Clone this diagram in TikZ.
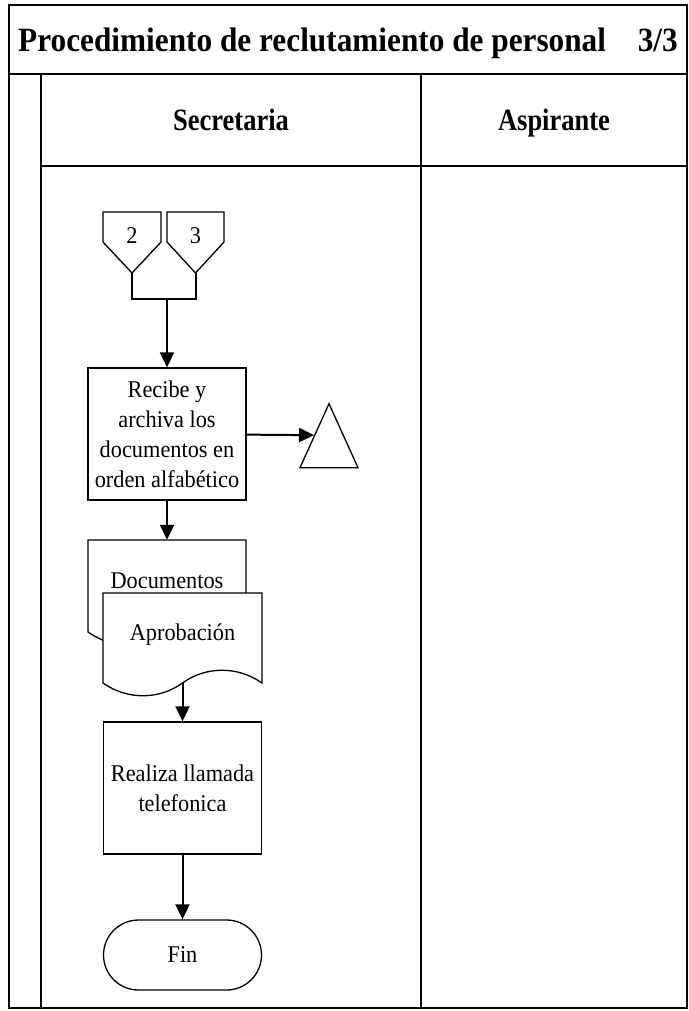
\documentclass[tikz,border=0pt]{standalone}
\usepackage{fontspec}
\setmainfont{Liberation Serif}
\newfontfamily\cuerpo[FakeStretch=0.93]{Liberation Serif}
\newfontfamily\encabezado[FakeStretch=0.92]{Liberation Serif}
\newfontfamily\carril[FakeStretch=0.855]{Liberation Serif}
\usetikzlibrary{arrows.meta,shapes.geometric}

\begin{document}
\begin{tikzpicture}[x=1pt,y=-1pt,font=\cuerpo\fontsize{24}{30}\selectfont,
  marco/.style={line width=2.4pt},
  forma/.style={draw,line width=1.3pt,fill=white},
  flowbox/.style={forma,minimum width=158pt,align=center,inner sep=0pt},
  docbox/.style={minimum width=158pt,inner sep=0pt,text height=16pt,text depth=12pt},
  flow/.style={line width=2pt,-{Triangle[length=15pt,width=14pt]}},
  lane/.style={font=\carril\fontsize{31}{34}\selectfont\bfseries,anchor=base,inner sep=0pt}]
\useasboundingbox (0,0) rectangle (688,1011);
% marco del diagrama
\draw[marco] (9,5) rectangle (687,1008);
\draw[marco] (9,74) -- (687,74);
\draw[marco] (41,74) -- (41,1008);
\draw[marco] (41,166) -- (687,166);
\draw[marco] (421,74) -- (421,1008);
\node[anchor=base west,inner sep=0pt,font=\encabezado\fontsize{34}{38}\selectfont\bfseries] (titulo) at (18,52) {Procedimiento de reclutamiento de personal};
\node[anchor=base east,inner sep=0pt,font=\encabezado\fontsize{34}{38}\selectfont\bfseries] (pagina) at (678,52) {3/3};
\node[lane] (secretaria) at (231,131) {Secretaria};
\node[lane] (aspirante) at (554,131) {Aspirante};
% conectores de pagina
\draw[forma] (103,212) -- (161,212) -- (161,242) -- (132,273) -- (103,242) -- cycle;
\draw[forma] (167,212) -- (224,212) -- (224,242) -- (195.5,273) -- (167,242) -- cycle;
\node[anchor=base] (con2) at (132,243) {2};
\node[anchor=base] (con3) at (195.5,243) {3};
\coordinate (tip2) at (132,273);
\coordinate (tip3) at (195.5,273);
\coordinate (union) at (167,299);
\draw[line width=2pt] (tip2) -- (tip2 |- union) -- (tip3 |- union) -- (tip3);
% secretaria
\node[flowbox,minimum height=132pt] (recibe) at (167,434) {Recibe y\\archiva los\\documentos en\\orden alfabético};
\node[forma,isosceles triangle,isosceles triangle stretches,shape border rotate=90,
  minimum width=58pt,minimum height=64pt,inner sep=0pt,anchor=apex] (archivo) at (329,402) {};
\draw[forma] (88,632) -- (88,540) -- (246,540) -- (246,632) .. controls (222,615) and (191,615) .. (167,632) .. controls (143,649) and (112,649) .. (88,632) -- cycle;
\node[docbox,minimum height=92pt] (docs) at (167,586) {Documentos};
\draw[forma] (103,683) -- (103,593) -- (262,593) -- (262,683) .. controls (238,666) and (206,666) .. (182.5,683) .. controls (159,700) and (127,700) .. (103,683) -- cycle;
\node[docbox,minimum height=90pt] (aprob) at (182.5,638) {Aprobación};
\node[flowbox,minimum height=132pt] (llamada) at (182.5,788) {Realiza llamada\\telefonica};
\node[flowbox,rounded corners=35pt,minimum height=70pt] (fin) at (182.5,955) {Fin};
% flechas
\draw[flow] (union) -- (recibe);
\draw[flow] (recibe) -- (archivo.left side);
\draw[flow] (recibe) -- (docs);
\draw[flow] (aprob) -- (llamada);
\draw[flow] (llamada) -- (fin);
\end{tikzpicture}
\end{document}
